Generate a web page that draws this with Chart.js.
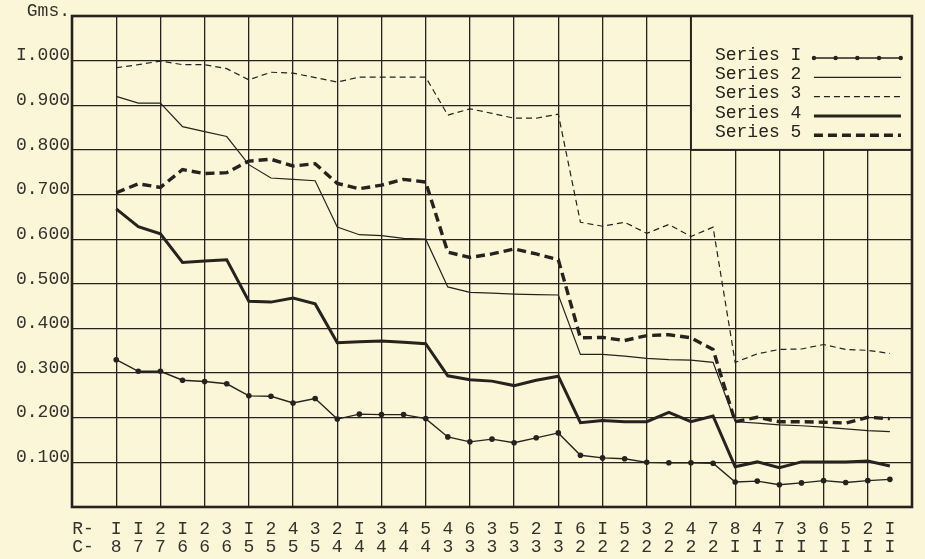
<!DOCTYPE html>
<html>
<head>
<meta charset="utf-8">
<script src="https://cdn.jsdelivr.net/npm/chart.js@4/dist/chart.umd.min.js"></script>
<style>
  html, body { margin: 0; padding: 0; background: #fbf6d8; }
  #wrap { width: 925px; height: 559px; position: relative; }
</style>
</head>
<body>
<div id="wrap"><canvas id="chart"></canvas></div>
<script>
// two-row x labels (R over C), one pair per reading
const rowR = ['I','I','2','I','2','3','I','2','4','3','2','I','3','4','5','4','6','3','5','2','I','6','I','5','3','2','4','7','8','4','7','3','6','5','2','I']
const rowC = ['8','7','7','6','6','6','5','5','5','5','4','4','4','4','4','3','3','3','3','3','3','2','2','2','2','2','2','2','I','I','I','I','I','I','I','I']

const yTickValues = [0, 0.1, 0.2, 0.3, 0.4, 0.5, 0.6, 0.7, 0.8, 0.9, 1.0, 1.1]
const yTickLabels = ['', '0.100', '0.200', '0.300', '0.400', '0.500', '0.600', '0.700', '0.800', '0.900', 'I.000', 'Gms.']

const seriesNames = ['Series I', 'Series 2', 'Series 3', 'Series 4', 'Series 5']

const series1 = [0.330, 0.304, 0.304, 0.284, 0.281, 0.276, 0.249, 0.248, 0.233, 0.243, 0.197, 0.208, 0.207, 0.207, 0.198, 0.157, 0.146, 0.152, 0.144, 0.155, 0.166, 0.116, 0.110, 0.108, 0.100, 0.099, 0.099, 0.098, 0.056, 0.058, 0.050, 0.054, 0.059, 0.055, 0.059, 0.062]
const series2 = [0.920, 0.905, 0.905, 0.852, 0.841, 0.830, 0.767, 0.737, 0.734, 0.731, 0.627, 0.610, 0.608, 0.602, 0.600, 0.493, 0.481, 0.479, 0.477, 0.476, 0.475, 0.342, 0.342, 0.338, 0.333, 0.330, 0.329, 0.324, 0.191, 0.188, 0.184, 0.182, 0.179, 0.175, 0.171, 0.169]
const series3 = [0.984, 0.991, 0.999, 0.991, 0.991, 0.982, 0.957, 0.974, 0.972, 0.962, 0.952, 0.963, 0.963, 0.963, 0.963, 0.878, 0.892, 0.882, 0.871, 0.871, 0.880, 0.638, 0.629, 0.638, 0.613, 0.633, 0.606, 0.627, 0.324, 0.343, 0.353, 0.354, 0.364, 0.353, 0.351, 0.344]
const series4 = [0.668, 0.628, 0.612, 0.548, 0.551, 0.554, 0.461, 0.459, 0.468, 0.455, 0.368, 0.370, 0.372, 0.369, 0.366, 0.294, 0.285, 0.282, 0.272, 0.284, 0.293, 0.189, 0.194, 0.191, 0.191, 0.212, 0.191, 0.204, 0.090, 0.101, 0.088, 0.101, 0.101, 0.101, 0.103, 0.092]
const series5 = [0.704, 0.724, 0.716, 0.756, 0.747, 0.749, 0.775, 0.779, 0.764, 0.769, 0.725, 0.713, 0.721, 0.734, 0.728, 0.571, 0.559, 0.567, 0.578, 0.567, 0.554, 0.379, 0.380, 0.373, 0.384, 0.386, 0.379, 0.353, 0.191, 0.201, 0.191, 0.191, 0.190, 0.188, 0.201, 0.198]

const paper = '#fbf6d8'
const ink = '#26221d'
const typeFont = "'Liberation Mono', 'DejaVu Sans Mono', monospace"

function toPoints(values) {
  return values.map((v, i) => ({ x: i, y: v }))
}

function line(label, values, width, dash, dots) {
  return {
    label,
    data: toPoints(values),
    borderColor: ink,
    backgroundColor: ink,
    borderWidth: width,
    borderDash: dash,
    pointRadius: dots ? 2.8 : 0,
    pointBorderWidth: 0,
    tension: 0,
  }
}

// boxed key in the upper right, heavy outer frame
const paperPlugin = {
  id: 'paper',
  afterDatasetsDraw(chart) {
    const { ctx, chartArea: a, scales: { x, y } } = chart
    const bx = x.getPixelForValue(26)
    const by = y.getPixelForValue(0.8)
    ctx.save()
    ctx.fillStyle = paper
    ctx.fillRect(bx, a.top, a.right - bx, by - a.top)
    ctx.strokeStyle = ink
    ctx.lineWidth = 2
    ctx.strokeRect(bx, a.top, a.right - bx, by - a.top)

    ctx.font = '18px ' + typeFont
    ctx.textBaseline = 'middle'
    ctx.textAlign = 'left'
    chart.data.datasets.forEach((ds, i) => {
      const ty = a.top + 39 + i * 19.3
      ctx.fillStyle = ink
      ctx.fillText(ds.label, bx + 24, ty)
      const ly = ty + 3
      ctx.beginPath()
      ctx.setLineDash(ds.borderDash)
      ctx.lineWidth = ds.borderWidth
      ctx.moveTo(bx + 123, ly)
      ctx.lineTo(bx + 210, ly)
      ctx.stroke()
      ctx.setLineDash([])
      if (ds.pointRadius) {
        for (let k = 0; k < 5; k++) {
          ctx.beginPath()
          ctx.arc(bx + 123 + k * 21.7, ly, 2.2, 0, Math.PI * 2)
          ctx.fill()
        }
      }
    })

    ctx.setLineDash([])
    ctx.lineWidth = 2.6
    ctx.strokeRect(a.left, a.top, a.right - a.left, a.bottom - a.top)
    ctx.restore()
  },
}

new Chart(document.getElementById('chart'), {
  type: 'line',
  data: {
    datasets: [
      line(seriesNames[0], series1, 1.4, [], true),
      line(seriesNames[1], series2, 1.2, [], false),
      line(seriesNames[2], series3, 1.2, [6, 4], false),
      line(seriesNames[3], series4, 3, [], false),
      line(seriesNames[4], series5, 3.4, [9, 5], false),
    ],
  },
  options: {
    responsive: true,
    maintainAspectRatio: false,
    animation: false,
    layout: { padding: { left: 0, top: 16, right: 3, bottom: 0 } },
    plugins: { legend: { display: false }, tooltip: { enabled: false } },
    scales: {
      x: {
        type: 'linear',
        min: -2,
        max: 36,
        afterBuildTicks: (s) => {
          const t = [{ value: -2 }, { value: -1.5 }]
          for (let i = -1; i <= 36; i++) t.push({ value: i })
          s.ticks = t
        },
        afterFit: (s) => { s.height = 52 },
        grid: {
          color: (c) => (c.tick && Number.isInteger(c.tick.value) && c.tick.value % 2 === 0 ? ink : 'rgba(0,0,0,0)'),
          lineWidth: 1.3,
          drawTicks: false,
        },
        border: { display: false },
        ticks: {
          autoSkip: false,
          maxRotation: 0,
          padding: 13,
          color: '#35312b',
          font: { family: typeFont, size: 18, lineHeight: 1 },
          callback: (v) => {
            if (v === -1.5) return ['R-', 'C-']
            if (v >= 0 && v < rowR.length) return [rowR[v], rowC[v]]
            return ''
          },
        },
      },
      y: {
        type: 'linear',
        min: 0,
        max: 1.1,
        afterBuildTicks: (s) => { s.ticks = yTickValues.map((v) => ({ value: v })) },
        afterFit: (s) => { s.width = 72 },
        grid: { color: ink, lineWidth: 1.3, drawTicks: false },
        border: { display: false },
        ticks: {
          padding: 2,
          labelOffset: -5,
          color: '#35312b',
          font: { family: typeFont, size: 18 },
          callback: (v, i) => yTickLabels[i],
        },
      },
    },
  },
  plugins: [paperPlugin],
})
</script>
</body>
</html>
